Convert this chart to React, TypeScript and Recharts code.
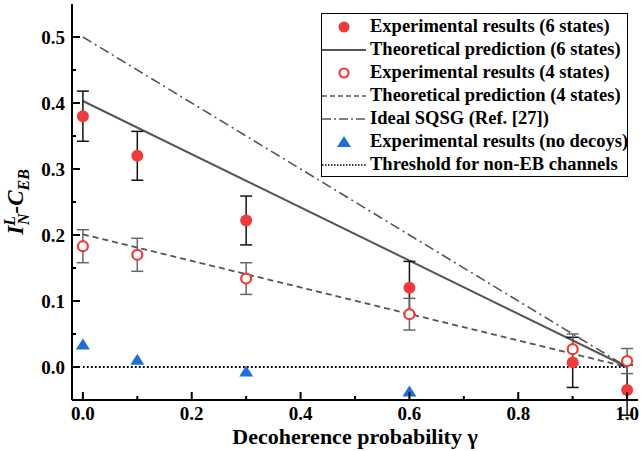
import React from 'react';
import { ComposedChart, Line, Scatter, XAxis, YAxis, ErrorBar, Legend } from 'recharts';

// decoherence probabilities
const gammaValues = [0, 0.1, 0.3, 0.6, 0.9, 1.0];
const noDecoyGamma = [0, 0.1, 0.3, 0.6, 0.9];
const theoryGamma = [0, 1];

// measured witness values
const exp6 = [0.38, 0.32, 0.222, 0.12, 0.007, -0.035];
const exp6Err = [0.038, 0.037, 0.037, 0.04, 0.038, 0.038];
const exp4 = [0.183, 0.17, 0.134, 0.08, 0.027, 0.009];
const exp4Err = [0.025, 0.025, 0.024, 0.024, 0.023, 0.019];
const noDecoy = [0.034, 0.011, -0.007, -0.037, -0.058];

// theory curves (end points)
const theory6 = [0.403, 0];
const theory4 = [0.201, 0];
const idealSqsg = [0.5, 0];
const threshold = [0, 0];

const xTicks = [0, 0.1, 0.2, 0.3, 0.4, 0.5, 0.6, 0.7, 0.8, 0.9, 1.0];
const yTicks = [0, 0.05, 0.1, 0.15, 0.2, 0.25, 0.3, 0.35, 0.4, 0.45, 0.5];

const legendLabels = [
  'Experimental results (6 states)',
  'Theoretical prediction (6 states)',
  'Experimental results (4 states)',
  'Theoretical prediction (4 states)',
  'Ideal SQSG (Ref. [27])',
  'Experimental results (no decoys)',
  'Threshold for non-EB channels',
];

const RED = '#ef3b3b';
const BLUE = '#1f6fd8';
const GRAY = '#555555';
const FONT = '"Liberation Serif", "Times New Roman", serif';

const pts = (xs: number[], ys: number[], errs?: number[]) =>
  xs.map((x, i) => ({ x, y: ys[i], err: errs ? errs[i] : 0 }));

const exp6Data = pts(gammaValues, exp6, exp6Err);
const exp4Data = pts(gammaValues, exp4, exp4Err);
const noDecoyData = pts(noDecoyGamma, noDecoy);
const theory6Data = pts(theoryGamma, theory6);
const theory4Data = pts(theoryGamma, theory4);
const idealData = pts(theoryGamma, idealSqsg);
const thresholdData = pts(theoryGamma, threshold);

const isTenth = (v: number) => Math.abs(v * 10 - Math.round(v * 10)) < 1e-6;
const isMajorX = (v: number) => Math.round(v * 10) % 2 === 0;

const LeftTick = (props: any) => {
  const { x, y, payload } = props;
  const major = isTenth(payload.value);
  return (
    <g>
      <line x1={x} x2={x + (major ? 8 : 4)} y1={y} y2={y} stroke="#000" strokeWidth={2} />
      {major && (
        <text x={x - 7} y={y} dy={6.5} textAnchor="end" fontFamily={FONT} fontWeight="bold" fontSize={19} fill="#000">
          {payload.value.toFixed(1)}
        </text>
      )}
    </g>
  );
};

const RightTick = (props: any) => {
  const { x, y, payload } = props;
  const major = isTenth(payload.value);
  return <line x1={x} x2={x - (major ? 8 : 4)} y1={y} y2={y} stroke="#000" strokeWidth={2} />;
};

const BottomTick = (props: any) => {
  const { x, y, payload } = props;
  const major = isMajorX(payload.value);
  return (
    <g>
      <line x1={x} x2={x} y1={y} y2={y - (major ? 8 : 4)} stroke="#000" strokeWidth={2} />
      {major && (
        <text x={x} y={y + 19.5} textAnchor="middle" fontFamily={FONT} fontWeight="bold" fontSize={19} fill="#000">
          {payload.value.toFixed(1)}
        </text>
      )}
    </g>
  );
};

const TopTick = (props: any) => {
  const { x, y, payload } = props;
  const major = isMajorX(payload.value);
  return <line x1={x} x2={x} y1={y} y2={y + (major ? 8 : 4)} stroke="#000" strokeWidth={2} />;
};

const FilledDot = (p: any) => <circle cx={p.cx} cy={p.cy} r={6} fill={RED} />;
const OpenDot = (p: any) => <circle cx={p.cx} cy={p.cy} r={5} fill="#fff" stroke={RED} strokeWidth={2.2} />;
const Triangle = (p: any) => (
  <polygon points={`${p.cx},${p.cy - 6} ${p.cx - 7},${p.cy + 5} ${p.cx + 7},${p.cy + 5}`} fill={BLUE} />
);

const YLabel = (props: any) => {
  const vb = props.viewBox || { x: 0, y: 4, width: 72, height: 396 };
  const cx = 23;
  const cy = vb.y + vb.height / 2;
  return (
    <text
      transform={`translate(${cx},${cy}) rotate(-90)`}
      textAnchor="middle"
      fontFamily={FONT}
      fontWeight="bold"
      fontStyle="italic"
      fontSize={23}
      fill="#000"
    >
      I
      <tspan fontSize={16} dy={-8}>L</tspan>
      <tspan fontSize={16} dx={-9} dy={14}>N</tspan>
      <tspan dy={-6}>-C</tspan>
      <tspan fontSize={16} dy={6}>EB</tspan>
    </text>
  );
};

const XLabel = (props: any) => {
  const vb = props.viewBox || { x: 72, y: 400, width: 566, height: 51 };
  return (
    <text
      x={vb.x + vb.width / 2}
      y={vb.y + 43.5}
      textAnchor="middle"
      fontFamily={FONT}
      fontWeight="bold"
      fontSize={22}
      fill="#000"
    >
      Decoherence probability γ
    </text>
  );
};

const legendSymbol = (i: number) => {
  switch (i) {
    case 0:
      return <circle cx={22} cy={8} r={5.5} fill={RED} />;
    case 1:
      return <line x1={0} x2={44} y1={8} y2={8} stroke={GRAY} strokeWidth={2} />;
    case 2:
      return <circle cx={22} cy={8} r={4.5} fill="#fff" stroke={RED} strokeWidth={2.2} />;
    case 3:
      return <line x1={0} x2={44} y1={8} y2={8} stroke={GRAY} strokeWidth={1.5} strokeDasharray="5 3" />;
    case 4:
      return <line x1={0} x2={44} y1={8} y2={8} stroke={GRAY} strokeWidth={1.5} strokeDasharray="9 3 2 3" />;
    case 5:
      return <polygon points="22,2 15,13 29,13" fill={BLUE} />;
    default:
      return <line x1={0} x2={44} y1={8} y2={8} stroke="#000" strokeWidth={1.5} strokeDasharray="1.5 1.5" />;
  }
};

const LegendBox = () => (
  <div
    style={{
      border: '1.5px solid #000',
      background: '#fff',
      padding: '1px 0 0 0',
      fontFamily: FONT,
      fontWeight: 'bold',
      fontSize: 18.5,
      lineHeight: '23px',
      color: '#000',
      width: 307,
      height: 164,
      boxSizing: 'border-box',
    }}
  >
    {legendLabels.map((label, i) => (
      <div key={label} style={{ display: 'flex', alignItems: 'center', whiteSpace: 'nowrap', height: 23 }}>
        <svg width={44} height={16} style={{ marginRight: 4, flex: 'none' }}>
          {legendSymbol(i)}
        </svg>
        <span>{label}</span>
      </div>
    ))}
  </div>
);

export default function App() {
  return (
    <div style={{ position: 'absolute', left: 0, top: 0, width: 641, height: 451, background: '#fff' }}>
      <ComposedChart width={641} height={451} margin={{ top: 4, right: 3, left: 0, bottom: 0 }}>
        <XAxis
          dataKey="x"
          type="number"
          domain={[-0.02, 1.02]}
          allowDataOverflow
          ticks={xTicks}
          interval={0}
          tickSize={0}
          tickMargin={0}
          tickLine={false}
          tick={<BottomTick />}
          height={51}
          axisLine={{ stroke: '#000', strokeWidth: 2 }}
          label={<XLabel />}
        />
        <XAxis
          xAxisId="top"
          orientation="top"
          dataKey="x"
          type="number"
          domain={[-0.02, 1.02]}
          allowDataOverflow
          ticks={xTicks}
          interval={0}
          tickSize={0}
          tickMargin={0}
          tickLine={false}
          tick={<TopTick />}
          height={0}
          axisLine={{ stroke: '#000', strokeWidth: 2 }}
        />
        <YAxis
          type="number"
          domain={[-0.05, 0.55]}
          allowDataOverflow
          ticks={yTicks}
          interval={0}
          tickSize={0}
          tickMargin={0}
          tickLine={false}
          tick={<LeftTick />}
          width={72}
          axisLine={{ stroke: '#000', strokeWidth: 2 }}
          label={<YLabel />}
        />
        <YAxis
          yAxisId="right"
          orientation="right"
          type="number"
          domain={[-0.05, 0.55]}
          allowDataOverflow
          ticks={yTicks}
          interval={0}
          tickSize={0}
          tickMargin={0}
          tickLine={false}
          tick={<RightTick />}
          width={0}
          axisLine={{ stroke: '#000', strokeWidth: 2 }}
        />
        <Legend
          content={<LegendBox />}
          layout="vertical"
          align="center"
          verticalAlign="middle"
          wrapperStyle={{ top: 13, left: 321, width: 307 }}
        />
        <Line data={thresholdData} dataKey="y" type="linear" stroke="#000" strokeWidth={1.8} strokeDasharray="1.8 2.2" dot={false} isAnimationActive={false} />
        <Line data={idealData} dataKey="y" type="linear" stroke={GRAY} strokeWidth={1.6} strokeDasharray="10 4 2 4" dot={false} isAnimationActive={false} />
        <Line data={theory4Data} dataKey="y" type="linear" stroke={GRAY} strokeWidth={1.8} strokeDasharray="6 4" dot={false} isAnimationActive={false} />
        <Line data={theory6Data} dataKey="y" type="linear" stroke={GRAY} strokeWidth={2} dot={false} isAnimationActive={false} />
        <Scatter data={exp6Data} dataKey="y" shape={<FilledDot />} isAnimationActive={false}>
          <ErrorBar dataKey="err" direction="y" width={6} stroke="#111" strokeWidth={1.5} />
        </Scatter>
        <Scatter data={exp4Data} dataKey="y" shape={<OpenDot />} isAnimationActive={false}>
          <ErrorBar dataKey="err" direction="y" width={6} stroke="#666" strokeWidth={1.5} />
        </Scatter>
        <Scatter data={noDecoyData} dataKey="y" shape={<Triangle />} isAnimationActive={false} />
      </ComposedChart>
    </div>
  );
}
